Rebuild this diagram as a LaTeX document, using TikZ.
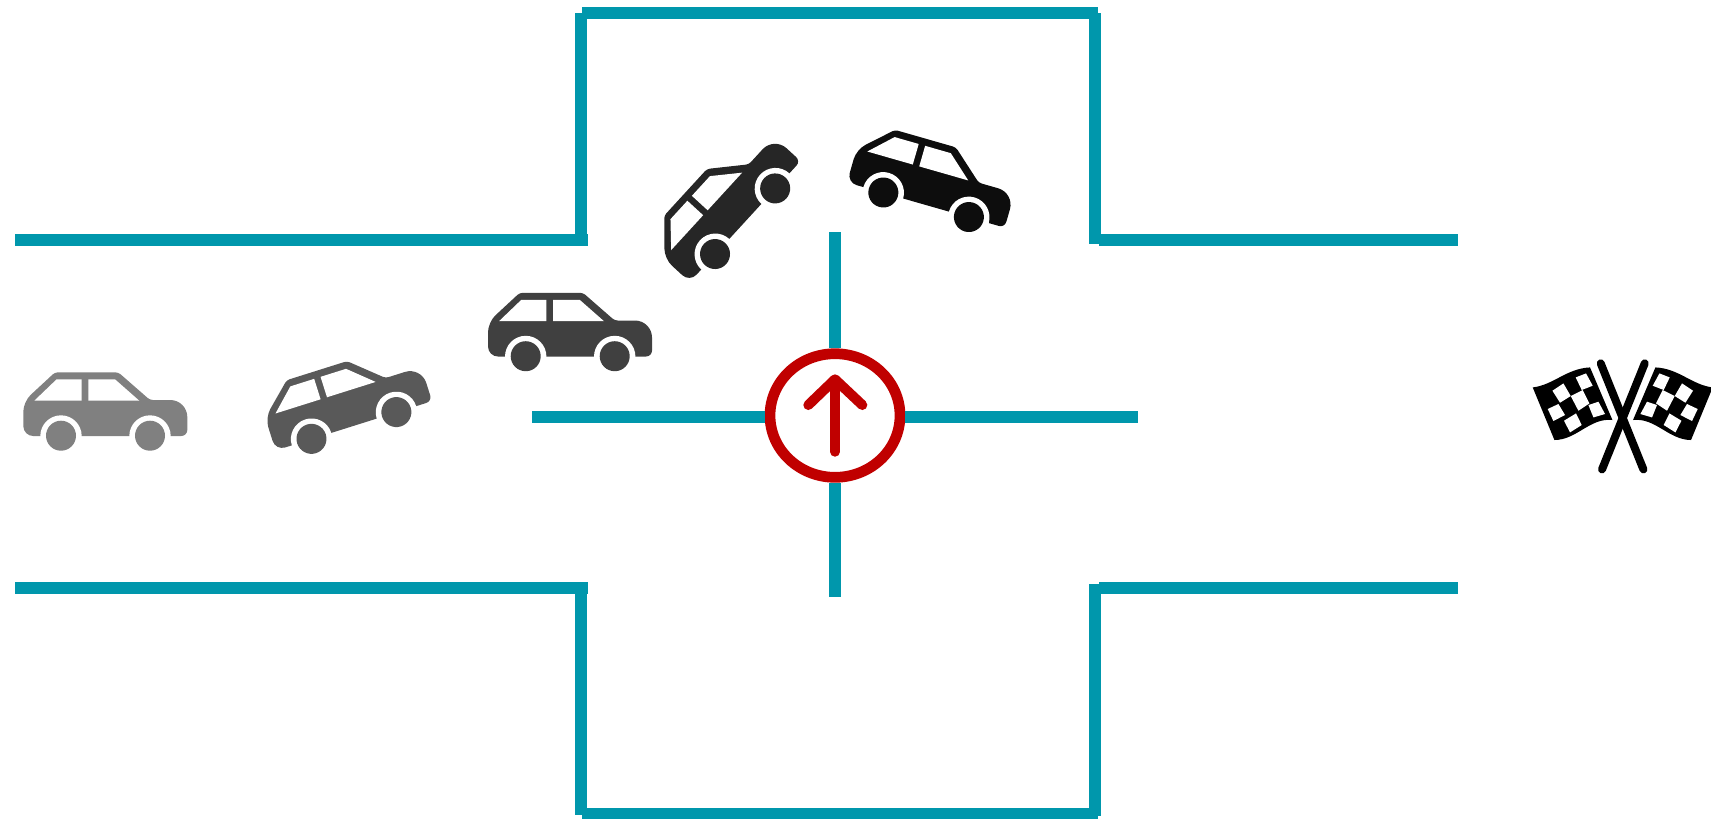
\documentclass[tikz,border=0pt]{standalone}
\usepackage{xcolor}
\usetikzlibrary{shapes.geometric}
\definecolor{walcol}{HTML}{0097AC}
\definecolor{sigcol}{HTML}{C00000}
\definecolor{carA}{HTML}{808080}
\definecolor{carB}{HTML}{595959}
\definecolor{carC}{HTML}{404040}
\definecolor{carD}{HTML}{262626}
\definecolor{carE}{HTML}{0D0D0D}

\begin{document}
\begin{tikzpicture}[
  x=0.1mm, y=-0.1mm,
  wall/.style={draw=walcol, line width=1.2mm},
  signal/.style={draw=sigcol, line width=1.07mm, ellipse, fill=white, inner sep=0pt,
                 minimum width=13mm, minimum height=12.36mm},
  signarrow/.style={draw=sigcol, line width=1mm, line cap=round, line join=round},
  pics/car/.style={code={
    \fill[#1] (-82,26) [rounded corners=1mm] -- (-82,-8.3) [rounded corners=0.3mm] -- (-50.3,-37.7)
      -- (13,-37.7) -- (44.7,-10) [rounded corners=1.7mm] -- (82,-10) [rounded corners=0.6mm] -- (82,26)
      [rounded corners=1mm] -- cycle;
    \fill[white] (-71,-9.3) -- (-48.7,-30.7) -- (-23.7,-30.7) -- (-23.7,-9.3) -- cycle;
    \fill[white] (-17,-30.7) -- (9.7,-30.7) -- (34,-9.3) -- (-17,-9.3) -- cycle;
    \foreach \wx in {-44.3,44.7} {
      \fill[white] (\wx,26) circle[radius=2.07mm];
      \fill[#1] (\wx,25.7) circle[radius=1.5mm];
    }
  }},
  pics/flag/.style={code={
    \draw[black, line width=0.8mm, line cap=round] (-22,-53.3) -- (20.7,52.7);
    \fill[black] (-90,-29.3) .. controls (-69.3,-31.7) and (-56,-48.3) .. (-32.7,-49.3)
      -- (-10.3,3.3) .. controls (-32.7,0.7) and (-46,23.3) .. (-68.3,23.3) -- cycle;
    \fill[white] (-47,-39.3) -- (-36.7,-43.3) -- (-30,-31) -- (-41,-26.7) -- cycle;
    \fill[white] (-70.3,-26) -- (-59.3,-33.3) -- (-52,-20.7) -- (-62.7,-14) -- cycle;
    \fill[white] (-52,-20.7) -- (-40,-26.7) -- (-33.3,-13.3) -- (-44.3,-6) -- cycle;
    \fill[white] (-34.3,-11.7) -- (-24.3,-15) -- (-17.7,-2.7) -- (-29.3,0.7) -- cycle;
    \fill[white] (-75,-7.7) -- (-64.3,-12.7) -- (-57.7,-1.7) -- (-69.3,4.3) -- cycle;
    \fill[white] (-58.7,4) -- (-46.7,-3.3) -- (-41,8.3) -- (-52.7,15.7) -- cycle;
  }},
  ]
  \useasboundingbox (0,0) rectangle (1711,818);

  % walls
  \draw[wall] (15,240) -- (588,240);
  \draw[wall] (581,13) -- (581,240);
  \draw[wall] (582,13) -- (1098,13);
  \draw[wall] (1094.5,13) -- (1094.5,244);
  \draw[wall] (1099,240) -- (1458,240);
  \draw[wall] (15,588) -- (588,588);
  \draw[wall] (581,585) -- (581,815);
  \draw[wall] (582,814) -- (1098,814);
  \draw[wall] (1094.5,584) -- (1094.5,816);
  \draw[wall] (1099,588) -- (1458,588);

  % signal and its arms
  \node[signal] (sign) at (835,415.5) {};
  \coordinate (armN) at (834.5,232);
  \coordinate (armS) at (834.5,597);
  \coordinate (armW) at (532,416.5);
  \coordinate (armE) at (1138,416.5);
  \draw[wall] (sign.north -| armN) -- (armN);
  \draw[wall] (sign.south -| armS) -- (armS);
  \draw[wall] (sign.west |- armW) -- (armW);
  \draw[wall] (sign.east |- armE) -- (armE);
  \draw[signarrow] (835,451.7) -- (835,380);
  \draw[signarrow] (808.3,405) -- (835,379.3) -- (862.3,405);

  % cars
  \pic (carone) at (105.3,410) {car=carA};
  \pic[rotate=17.5] (cartwo) at (346,401) {car=carB};
  \pic (carthree) at (570,330.5) {car=carC};
  \pic[rotate=47.5] (carfour) at (726,204) {car=carD};
  \pic[rotate=-16] (carfive) at (933,180) {car=carE};

  % finish flags
  \pic (flagL) at (1622.7,416.7) {flag};
  \pic[xscale=-1] (flagR) at (1622.7,416.7) {flag};
\end{tikzpicture}
\end{document}
